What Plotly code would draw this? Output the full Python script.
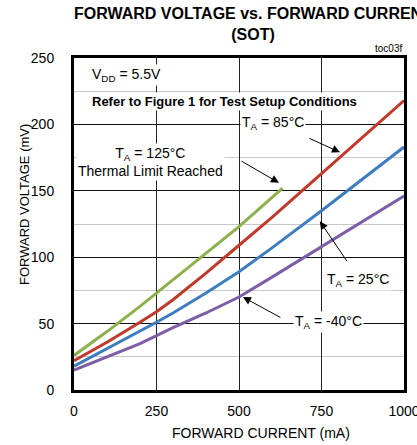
import plotly.graph_objects as go

# Data (mA, mV)
x_green = [0, 100, 200, 250, 300, 400, 500, 632]
y_green = [26, 44, 63, 73, 83, 103, 123, 152]
x_red = [0, 100, 200, 250, 300, 400, 500, 600, 750, 900, 1000]
y_red = [22, 36, 51, 59, 68, 88, 109, 130, 163, 196, 218]
x_blue = [0, 100, 200, 250, 300, 400, 500, 600, 750, 900, 1000]
y_blue = [18, 31, 44, 51, 58, 73, 89, 107, 135, 164, 183]
x_purple = [0, 100, 200, 250, 300, 400, 500, 600, 750, 900, 1000]
y_purple = [15, 25, 35, 41, 47, 58, 70, 85, 108, 131, 146]
x_ticks = [0, 250, 500, 750, 1000]
y_ticks = [0, 50, 100, 150, 200, 250]

FONT = "Liberation Sans, Arial, sans-serif"

fig = go.Figure()
for xs, ys, col in [(x_purple, y_purple, "#7b5ea7"), (x_blue, y_blue, "#3d7cc0"),
                    (x_red, y_red, "#c0392b"), (x_green, y_green, "#8cb04a")]:
    fig.add_trace(go.Scatter(x=xs, y=ys, mode="lines", line=dict(color=col, width=3),
                             showlegend=False, hoverinfo="skip"))

ann = []
def label(x, y, text, xanchor="center", bold=False, size=14):
    t = f"<b>{text}</b>" if bold else text
    ann.append(dict(x=x, y=y, xref="x", yref="y", text=t, showarrow=False,
                    xanchor=xanchor, yanchor="middle", bgcolor="white",
                    font=dict(family=FONT, size=size, color="black")))

def arrow(x, y, ax, ay):
    ann.append(dict(x=x, y=y, ax=ax, ay=ay, xref="x", yref="y", axref="x", ayref="y",
                    text="", showarrow=True, arrowhead=2, arrowsize=1.6, arrowwidth=1,
                    arrowcolor="black"))

label(48, 237, "V<sub>DD</sub> = 5.5V", xanchor="left")
label(48, 217.5, "Refer to Figure 1 for Test Setup Conditions", xanchor="left", bold=True, size=13)
label(503, 201, "T<sub>A</sub> = 85°C", xanchor="left")
label(232, 172, "T<sub>A</sub> = 125°C<br>Thermal Limit Reached")
label(860, 83, "T<sub>A</sub> = 25°C")
label(770, 51, "T<sub>A</sub> = -40°C")

arrow(806, 179, 709, 190)
arrow(621, 156, 503, 173)
arrow(745, 127, 830, 96)
arrow(512, 70, 630, 54)

plot_l, plot_r, plot_t, plot_b = 74, 13, 58, 55
pw = 417 - plot_l - plot_r
ph = 445 - plot_t - plot_b

# Title
ann.append(dict(x=(253 - plot_l) / pw, y=(445 - plot_b - 24) / ph, xref="paper", yref="paper",
                text="<b>FORWARD VOLTAGE vs. FORWARD CURRENT</b><br><b>(SOT)</b>",
                showarrow=False, xanchor="center", yanchor="middle",
                font=dict(family=FONT, size=16, color="black")))
ann.append(dict(x=1, y=1, xref="paper", yref="paper", text="toc03f", showarrow=False,
                xanchor="right", yanchor="bottom", yshift=2,
                font=dict(family=FONT, size=10, color="black")))
ann.append(dict(x=0, y=0.5, xref="paper", yref="paper", text="FORWARD VOLTAGE (mV)", showarrow=False,
                textangle=-90, xanchor="center", yanchor="middle", xshift=-50, yshift=19,
                font=dict(family=FONT, size=13, color="black")))
ann.append(dict(x=0.5, y=0, xref="paper", yref="paper", text="FORWARD CURRENT (mA)", showarrow=False,
                xanchor="center", yanchor="middle", yshift=-43, xshift=22,
                font=dict(family=FONT, size=14, color="black")))

fig.update_layout(
    width=417, height=445,
    margin=dict(l=plot_l, r=plot_r, t=plot_t, b=plot_b),
    paper_bgcolor="white", plot_bgcolor="white",
    annotations=ann,
    font=dict(family=FONT, size=14, color="black"),
    xaxis=dict(range=[0, 1000], tickvals=x_ticks, ticktext=[str(v) for v in x_ticks],
               showgrid=True, gridcolor="#222222", gridwidth=1, automargin=False,
               showline=True, linecolor="black", linewidth=3, mirror=True,
               ticks="", zeroline=False, ticklabelstandoff=6, ticklabeloverflow="allow",
               tickfont=dict(family=FONT, size=14)),
    yaxis=dict(range=[0, 250], tickvals=y_ticks, ticktext=[str(v) for v in y_ticks],
               showgrid=True, gridcolor="#111111", gridwidth=1, automargin=False,
               minor=dict(dtick=25, tick0=0, showgrid=True, gridcolor="#c8c8c8", gridwidth=1),
               showline=True, linecolor="black", linewidth=3, mirror=True,
               ticks="", zeroline=False, ticklabelstandoff=14, ticklabeloverflow="allow",
               tickfont=dict(family=FONT, size=14)),
)

fig.write_html("out.html")
